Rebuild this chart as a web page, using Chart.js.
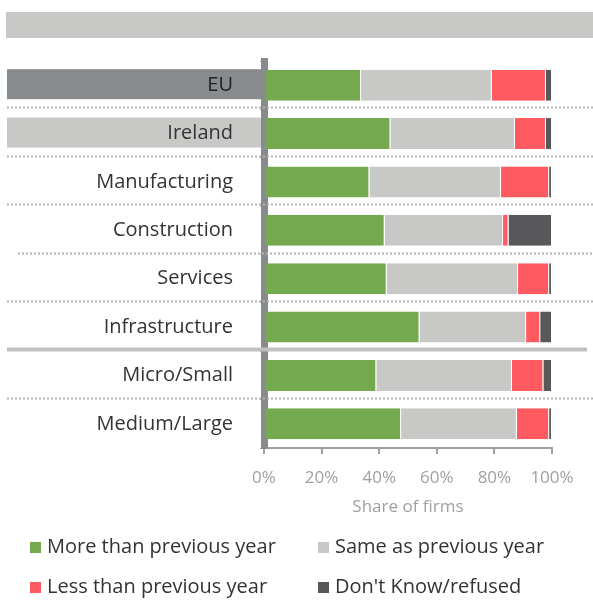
<!DOCTYPE html>
<html>
<head>
<meta charset="utf-8">
<script src="https://cdn.jsdelivr.net/npm/chart.js@4/dist/chart.umd.min.js"></script>
<style>
  html, body { margin: 0; padding: 0; background: #fff; }
  #wrap { width: 593px; height: 601px; position: relative; }
</style>
</head>
<body>
<div id="wrap"><canvas id="graph" width="593" height="601"></canvas></div>
<script>
// 売上の前年比 (share of firms, %)
var categories = ['EU', 'Ireland', 'Manufacturing', 'Construction', 'Services', 'Infrastructure', 'Micro/Small', 'Medium/Large'];
var moreValues = [33.7, 43.9, 36.6, 41.9, 42.6, 54.0, 39.0, 47.6];
var sameValues = [45.4, 43.2, 45.7, 41.1, 45.6, 37.0, 47.1, 40.2];
var lessValues = [18.8, 10.8, 16.7, 1.9, 10.8, 4.9, 10.9, 11.2];
var dkValues   = [2.1, 2.1, 1.0, 15.1, 1.0, 4.1, 3.0, 1.0];
var xTicks = [0, 20, 40, 60, 80, 100];

var seriesNames  = ['More than previous year', 'Same as previous year', 'Less than previous year', "Don't Know/refused"];
var seriesColors = ['#74a94f', '#c8c8c6', '#ff5a5f', '#58585a'];

var FONT = '"Open Sans", "Noto Sans", sans-serif';

// 背景の帯・区切り線・凡例
var decor = {
    id: 'decor',
    beforeDraw: function(chart) {
        var ctx = chart.ctx;
        var y = chart.scales.y;
        ctx.save();
        ctx.fillStyle = '#c8c8c6';
        ctx.fillRect(6, 12, 587, 26);

        var bandH = 30;
        ctx.fillStyle = '#888b8e';
        ctx.fillRect(7, y.getPixelForValue(0) - bandH / 2 - 1, 254, bandH);
        ctx.fillStyle = '#c8c8c6';
        ctx.fillRect(7, y.getPixelForValue(1) - bandH / 2 - 1, 254, bandH);
        ctx.restore();
    },
    beforeDatasetsDraw: function(chart) {
        var ctx = chart.ctx;
        var y = chart.scales.y;
        var step = y.getPixelForValue(1) - y.getPixelForValue(0);
        ctx.save();
        for (var i = 0; i < categories.length - 1; i++) {
            var py = Math.round(y.getPixelForValue(i) + step / 2 - 2) + 0.5;
            ctx.beginPath();
            if (i == 5) {
                ctx.setLineDash([]);
                ctx.strokeStyle = '#c0c0c0';
                ctx.lineWidth = 4;
                ctx.moveTo(7, py);
                ctx.lineTo(587, py);
            } else {
                ctx.setLineDash([2, 2]);
                ctx.strokeStyle = '#b4b4b4';
                ctx.lineWidth = 2;
                ctx.moveTo(i == 3 ? 18 : 7, py);
                ctx.lineTo(593, py);
            }
            ctx.stroke();
        }
        ctx.restore();
    },
    afterDraw: function(chart) {
        var ctx = chart.ctx;
        var cols = [30, 318];
        var rows = [547, 587];
        ctx.save();
        ctx.font = '20px ' + FONT;
        ctx.textBaseline = 'middle';
        for (var i = 0; i < seriesNames.length; i++) {
            var x = cols[i % 2];
            var yy = rows[Math.floor(i / 2)];
            ctx.fillStyle = seriesColors[i];
            ctx.fillRect(x, yy - 5, 11, 11);
            ctx.fillStyle = '#333';
            ctx.fillText(seriesNames[i], x + 17, yy);
        }
        ctx.restore();
    }
};

var seriesValues = [moreValues, sameValues, lessValues, dkValues];
var datasets = [];
for (var i = 0; i < seriesNames.length; i++) {
    datasets.push({
        label: seriesNames[i],
        data: seriesValues[i],
        backgroundColor: seriesColors[i],
        borderColor: '#ffffff',
        borderWidth: {left: 0, right: 1, top: 0, bottom: 0},
        borderSkipped: false,
        barPercentage: 0.64,
        categoryPercentage: 1
    });
}

var ctx = document.getElementById('graph').getContext('2d');
window.myBar = new Chart(ctx, {
    type: 'bar',
    data: { labels: categories, datasets: datasets },
    options: {
        indexAxis: 'y',
        responsive: false,
        animation: false,
        devicePixelRatio: 1,
        layout: { padding: { left: 0, top: 61, right: 41, bottom: 82 } },
        plugins: {
            legend: { display: false },
            tooltip: { enabled: false }
        },
        scales: {
            x: {
                stacked: true,
                min: 0,
                max: 100,
                afterFit: function(scale) { scale.height = 71; },
                afterBuildTicks: function(scale) {
                    scale.ticks = xTicks.map(function(v) { return {value: v}; });
                },
                grid: { drawOnChartArea: false, drawTicks: true, tickLength: 6, color: '#a0a0a0', lineWidth: 2 },
                border: { display: true, color: '#a0a0a0', width: 2 },
                ticks: {
                    padding: 14,
                    color: '#a0a0a0',
                    font: { family: FONT, size: 17 },
                    callback: function(v) { return v + '%'; }
                },
                title: {
                    display: true,
                    text: 'Share of firms',
                    color: '#a0a0a0',
                    font: { family: FONT, size: 17 },
                    padding: { top: 8, bottom: 2 }
                }
            },
            y: {
                stacked: true,
                z: 1,
                afterFit: function(scale) { scale.width = 264; },
                grid: { drawOnChartArea: false, drawTicks: true, tickLength: 4, color: '#a8a8a8', lineWidth: 1 },
                border: { display: true, color: '#888b8e', width: 7 },
                ticks: {
                    padding: 27,
                    color: function(c) { return c.index == 0 ? '#222' : '#333'; },
                    font: { family: FONT, size: 20 }
                }
            }
        }
    },
    plugins: [decor]
});
</script>
</body>
</html>
